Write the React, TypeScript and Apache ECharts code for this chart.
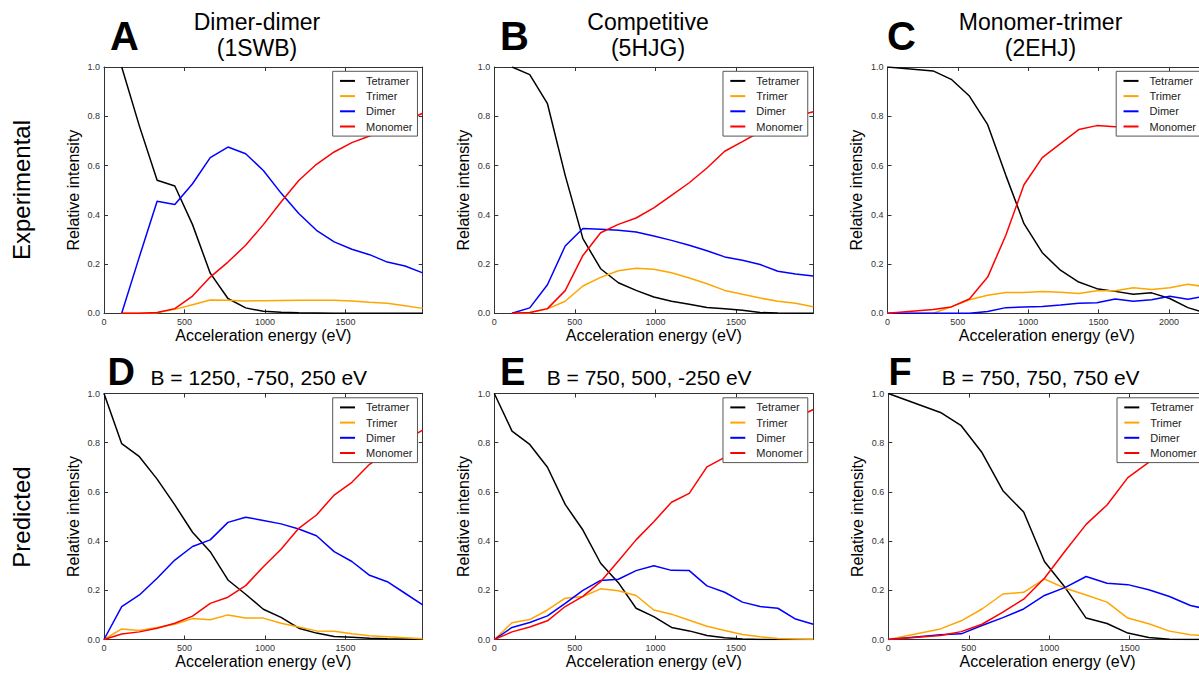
import React, { useEffect, useRef } from "react";
import * as echarts from "echarts";

const FONT = '"Liberation Sans", Arial, Helvetica, sans-serif';
const NAMES = ["Tetramer", "Trimer", "Dimer", "Monomer"];
const COLORS = ["#000000", "#FFA500", "#0000FF", "#FF0000"];

// Energies (eV)
const energiesAB = [110, 220, 330, 440, 550, 660, 770, 880, 990, 1100, 1210, 1320, 1430, 1540, 1650, 1760, 1870, 1980];
const energiesDE = [0, 110, 220, 330, 440, 550, 660, 770, 880, 990, 1100, 1210, 1320, 1430, 1540, 1650, 1760, 1870, 1980];
const energiesC = [0, 324, 453, 582, 712, 841, 970, 1100, 1229, 1359, 1488, 1618, 1747, 1877, 2006, 2135, 2265];
const energiesF = [0, 324, 453, 582, 712, 841, 970, 1100, 1229, 1359, 1488, 1618, 1747, 1877, 2006];

// A: Dimer-dimer (1SWB), experimental
const tetA = [1.0, 0.76, 0.54, 0.517, 0.36, 0.163, 0.06, 0.022, 0.008, 0.004, 0.002, 0.001, 0, 0, 0, 0, 0, 0];
const triA = [0, 0, 0.002, 0.016, 0.035, 0.054, 0.053, 0.05, 0.051, 0.052, 0.053, 0.053, 0.053, 0.05, 0.045, 0.041, 0.031, 0.02];
const dimA = [0, 0.23, 0.455, 0.442, 0.526, 0.632, 0.675, 0.648, 0.58, 0.488, 0.405, 0.337, 0.29, 0.26, 0.238, 0.208, 0.192, 0.164];
const monA = [0, 0, 0.003, 0.019, 0.07, 0.147, 0.208, 0.276, 0.36, 0.452, 0.539, 0.605, 0.655, 0.693, 0.72, 0.752, 0.78, 0.812];

// B: Competitive (5HJG), experimental
const tetB = [1.0, 0.969, 0.851, 0.56, 0.303, 0.181, 0.124, 0.093, 0.066, 0.049, 0.037, 0.024, 0.018, 0.012, 0.003, 0.001, 0, 0];
const triB = [0, 0.002, 0.018, 0.049, 0.111, 0.146, 0.173, 0.183, 0.179, 0.165, 0.143, 0.12, 0.093, 0.077, 0.062, 0.049, 0.041, 0.027];
const dimB = [0, 0.022, 0.116, 0.273, 0.344, 0.341, 0.337, 0.33, 0.314, 0.296, 0.276, 0.254, 0.229, 0.215, 0.198, 0.171, 0.16, 0.151];
const monB = [0, 0.003, 0.019, 0.092, 0.235, 0.327, 0.361, 0.387, 0.428, 0.479, 0.53, 0.59, 0.658, 0.697, 0.737, 0.77, 0.8, 0.818];

// C: Monomer-trimer (2EHJ), experimental
const tetC = [1.0, 0.984, 0.95, 0.882, 0.766, 0.56, 0.364, 0.246, 0.175, 0.127, 0.1, 0.089, 0.077, 0.083, 0.06, 0.023, 0.0];
const triC = [0, 0, 0.026, 0.055, 0.073, 0.084, 0.084, 0.089, 0.085, 0.08, 0.092, 0.092, 0.104, 0.097, 0.104, 0.118, 0.107];
const dimC = [0, 0, 0, 0, 0.007, 0.023, 0.026, 0.028, 0.034, 0.041, 0.043, 0.058, 0.049, 0.055, 0.069, 0.057, 0.07];
const monC = [0, 0.015, 0.026, 0.058, 0.147, 0.317, 0.522, 0.632, 0.689, 0.746, 0.762, 0.757, 0.76, 0.765, 0.77, 0.775, 0.78];

// D: B = 1250, -750, 250 eV, predicted
const tetD = [1.0, 0.796, 0.743, 0.652, 0.547, 0.436, 0.357, 0.242, 0.184, 0.123, 0.09, 0.046, 0.026, 0.012, 0.009, 0.005, 0.003, 0.002, 0.001];
const triD = [0, 0.043, 0.037, 0.049, 0.062, 0.085, 0.08, 0.1, 0.087, 0.087, 0.066, 0.051, 0.035, 0.034, 0.023, 0.015, 0.011, 0.007, 0.003];
const dimD = [0, 0.134, 0.181, 0.249, 0.323, 0.378, 0.405, 0.476, 0.497, 0.484, 0.47, 0.449, 0.422, 0.357, 0.317, 0.261, 0.235, 0.188, 0.141];
const monD = [0, 0.022, 0.031, 0.046, 0.066, 0.095, 0.147, 0.172, 0.219, 0.296, 0.367, 0.452, 0.506, 0.587, 0.639, 0.712, 0.76, 0.81, 0.851];

// E: B = 750, 500, -250 eV, predicted
const tetE = [1.0, 0.847, 0.793, 0.7, 0.549, 0.445, 0.31, 0.231, 0.127, 0.093, 0.049, 0.035, 0.016, 0.007, 0.002, 0, 0, 0, 0];
const triE = [0, 0.068, 0.081, 0.12, 0.168, 0.175, 0.206, 0.198, 0.179, 0.12, 0.103, 0.078, 0.054, 0.037, 0.02, 0.011, 0.004, 0.002, 0.001];
const dimE = [0, 0.049, 0.069, 0.096, 0.147, 0.2, 0.24, 0.245, 0.28, 0.3, 0.281, 0.28, 0.218, 0.192, 0.152, 0.134, 0.127, 0.083, 0.062];
const monE = [0, 0.031, 0.051, 0.076, 0.134, 0.175, 0.235, 0.319, 0.405, 0.479, 0.558, 0.594, 0.702, 0.74, 0.79, 0.83, 0.87, 0.9, 0.935];

// F: B = 750, 750, 750 eV, predicted
const tetF = [1.0, 0.923, 0.869, 0.76, 0.605, 0.518, 0.317, 0.21, 0.087, 0.065, 0.026, 0.008, 0.001, 0, 0];
const triF = [0, 0.043, 0.076, 0.124, 0.185, 0.192, 0.246, 0.208, 0.181, 0.152, 0.087, 0.064, 0.034, 0.019, 0.014];
const dimF = [0, 0.019, 0.023, 0.057, 0.089, 0.124, 0.179, 0.212, 0.256, 0.229, 0.223, 0.202, 0.175, 0.138, 0.12];
const monF = [0, 0.016, 0.032, 0.062, 0.111, 0.164, 0.249, 0.361, 0.468, 0.547, 0.658, 0.72, 0.77, 0.82, 0.86];

const panels = [
  { x: energiesAB, xmax: 1980, series: [tetA, triA, dimA, monA] },
  { x: energiesAB, xmax: 1980, series: [tetB, triB, dimB, monB] },
  { x: energiesC, xmax: 2265, series: [tetC, triC, dimC, monC] },
  { x: energiesDE, xmax: 1980, series: [tetD, triD, dimD, monD] },
  { x: energiesDE, xmax: 1980, series: [tetE, triE, dimE, monE] },
  { x: energiesF, xmax: 1980, series: [tetF, triF, dimF, monF] },
];

// layout (pixels)
const GRIDS = [
  { left: 104, top: 67, width: 318.7, height: 246.3 },
  { left: 494.3, top: 67, width: 319, height: 246.3 },
  { left: 887.5, top: 67, width: 318.7, height: 246.3 },
  { left: 104, top: 393.5, width: 318.7, height: 246 },
  { left: 494.3, top: 393.5, width: 319, height: 246 },
  { left: 888.3, top: 393.5, width: 318.7, height: 246 },
];

const AXIS_COLOR = "#333";

export default function App() {
  const ref = useRef<HTMLDivElement>(null);
  useEffect(() => {
    if (!ref.current) return;
    const chart = echarts.init(ref.current, null, { renderer: "svg" });

    const grid: any[] = [];
    const xAxis: any[] = [];
    const yAxis: any[] = [];
    const legend: any[] = [];
    const series: any[] = [];

    panels.forEach((p, g) => {
      const G = GRIDS[g];
      grid.push({ ...G, show: false, containLabel: false, outerBoundsMode: "none" });
      const common = {
        type: "value",
        gridIndex: g,
        splitLine: { show: false },
        axisLine: { show: true, onZero: false, lineStyle: { color: AXIS_COLOR, width: 1 } },
        axisTick: { show: true, inside: true, length: 4, lineStyle: { color: AXIS_COLOR, width: 1 } },
      };
      xAxis.push({
        ...common,
        position: "bottom",
        min: 0,
        max: p.xmax,
        interval: 500,
        axisLabel: {
          show: true,
          fontSize: 9,
          color: "#333",
          margin: 4,
          showMaxLabel: false,
          fontFamily: FONT,
          formatter: (v: number) => String(Math.round(v)),
        },
        name: "Acceleration energy (eV)",
        nameLocation: "middle",
        nameGap: 12,
        nameTextStyle: { fontSize: 16, color: "#000", fontFamily: FONT },
      });
      xAxis.push({
        ...common,
        position: "top",
        min: 0,
        max: p.xmax,
        interval: 500,
        axisLabel: { show: false },
      });
      yAxis.push({
        ...common,
        position: "left",
        min: 0,
        max: 1,
        interval: 0.2,
        axisLabel: {
          show: true,
          fontSize: 9,
          color: "#333",
          margin: 4,
          fontFamily: FONT,
          formatter: (v: number) => v.toFixed(1),
        },
        name: "Relative intensity",
        nameLocation: "middle",
        nameGap: 23,
        nameRotate: 90,
        nameTextStyle: { fontSize: 16, color: "#000", fontFamily: FONT },
      });
      yAxis.push({
        ...common,
        position: "right",
        min: 0,
        max: 1,
        interval: 0.2,
        axisLabel: { show: false },
      });
      legend.push({
        orient: "vertical",
        left: G.left + 228.7,
        top: G.top + 4.3,
        data: NAMES,
        selectedMode: false,
        backgroundColor: "#fff",
        borderColor: "#555",
        borderWidth: 1,
        borderRadius: 0,
        padding: [2, 5, 2, 7.3],
        itemGap: 0,
        itemWidth: 15,
        itemHeight: 2,
        icon: "rect",
        textStyle: { fontSize: 11, color: "#222", lineHeight: 15.2, padding: [0, 0, 0, 6], fontFamily: FONT },
      });
      p.series.forEach((vals, k) => {
        series.push({
          type: "line",
          name: NAMES[k],
          xAxisIndex: 2 * g,
          yAxisIndex: 2 * g,
          showSymbol: false,
          symbol: "none",
          clip: true,
          color: COLORS[k],
          lineStyle: { color: COLORS[k], width: 1.5 },
          data: vals.map((v, i) => [p.x[i], v]),
          z: 2,
        });
      });
    });

    const txt = (text: string, x: number, y: number, size: number, opts: any = {}) => ({
      type: "text",
      x,
      y,
      rotation: opts.rotation || 0,
      silent: true,
      style: {
        text,
        fill: "#000",
        fontSize: size,
        fontFamily: FONT,
        fontWeight: opts.bold ? "bold" : "normal",
        align: opts.align || "center",
        verticalAlign: "middle",
      },
    });

    const graphic = [
      txt("Experimental", 21.5, 190, 24, { rotation: Math.PI / 2 }),
      txt("Predicted", 21.5, 517, 24, { rotation: Math.PI / 2 }),
      txt("A", 110, 36, 40, { bold: true, align: "left" }),
      txt("B", 500, 36, 40, { bold: true, align: "left" }),
      txt("C", 887, 36, 40, { bold: true, align: "left" }),
      txt("D", 107.5, 371.5, 38, { bold: true, align: "left" }),
      txt("E", 500, 371.5, 38, { bold: true, align: "left" }),
      txt("F", 888.5, 371.5, 38, { bold: true, align: "left" }),
      txt("Dimer-dimer", 257, 22, 23),
      txt("(1SWB)", 257, 47.5, 23),
      txt("Competitive", 648, 22, 23),
      txt("(5HJG)", 648, 47.5, 23),
      txt("Monomer-trimer", 1040.5, 22, 23),
      txt("(2EHJ)", 1040.5, 47.5, 23),
      txt("B = 1250, -750, 250 eV", 150.5, 377.5, 21, { align: "left" }),
      txt("B = 750, 500, -250 eV", 546.7, 377.5, 21, { align: "left" }),
      txt("B = 750, 750, 750 eV", 941.7, 377.5, 21, { align: "left" }),
    ];

    chart.setOption({
      animation: false,
      backgroundColor: "#fff",
      textStyle: { fontFamily: FONT },
      grid,
      xAxis,
      yAxis,
      legend,
      series,
      graphic,
    });
    return () => chart.dispose();
  }, []);

  return (
    <div
      style={{
        position: "fixed",
        left: 0,
        top: 0,
        width: 1199,
        height: 673,
        overflow: "hidden",
        background: "#fff",
      }}
    >
      <div ref={ref} style={{ width: 1215, height: 673 }} />
    </div>
  );
}
